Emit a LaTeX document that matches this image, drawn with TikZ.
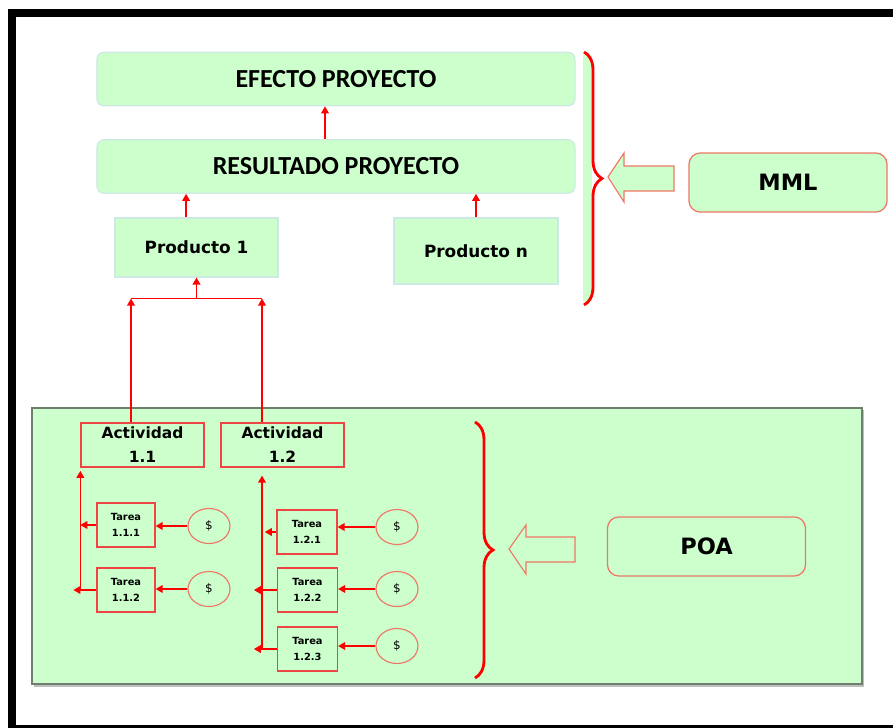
\documentclass[tikz,border=0pt]{standalone}
\usepackage{fontspec}
\newfontfamily\calibri{Carlito}
\newfontfamily\verdana{DejaVu Sans}
\usepackage{tikz}
\usetikzlibrary{positioning,shapes.geometric,arrows.meta,decorations.pathreplacing,calc}
\definecolor{verde}{HTML}{CCFFCC}
\definecolor{bordecaja}{HTML}{CDE9E4}
\definecolor{rojobox}{HTML}{EE4444}
\definecolor{salmon}{HTML}{EE7766}
\definecolor{bordepanel}{HTML}{6F7F6F}

\begin{document}
\begin{tikzpicture}[x=0.025cm,y=-0.025cm,
    caja/.style={draw=bordecaja, fill=verde, rounded corners=5pt, line width=0.8pt, minimum width=11.95cm, minimum height=1.34cm, font=\calibri\bfseries\fontsize{18.5}{20}\selectfont},
    prod/.style={draw=bordecaja, fill=verde, line width=0.8pt, font=\verdana\bfseries\fontsize{12}{14}\selectfont},
    activ/.style={draw=rojobox, line width=0.9pt, align=center, minimum width=3.075cm, minimum height=1.1cm, inner sep=0pt, font=\verdana\bfseries\fontsize{11}{17}\selectfont},
    tarea/.style={draw=rojobox, line width=0.9pt, align=center, minimum width=1.45cm, minimum height=1.1cm, inner sep=0pt, font=\verdana\bfseries\fontsize{7}{11.5}\selectfont},
    pesos/.style={draw=salmon, ellipse, line width=0.8pt, minimum width=1.05cm, minimum height=0.875cm, inner sep=0pt, font=\verdana\fontsize{8.5}{9}\selectfont},
    fuente/.style={draw=salmon, fill=verde, rounded corners=8pt, line width=0.9pt, minimum width=4.95cm, minimum height=1.475cm, font=\verdana\bfseries\fontsize{16}{18}\selectfont},
    flecha/.style={red, line width=1pt, -{Triangle[width=5.5pt,length=5pt]}},
    llave/.style={red, line width=2pt, decorate, decoration={brace, amplitude=12.8pt}},
    bloque/.style={draw=salmon, fill=verde, line width=0.8pt}
  ]
  \useasboundingbox (0,0) rectangle (893,728);
  %marco
  \draw[line width=5.7pt] (893,13) -- (12,13) -- (12,729) -- (893,729);

  %panel POA
  \fill[black!25] (34,410) rectangle (864,687);
  \draw[draw=bordepanel, fill=verde, line width=1.1pt] (32,408) rectangle (862,684);

  %MML
  \node[caja] (efecto) at (336,79) {EFECTO PROYECTO};
  \node[caja] (resultado) at (336,166.5) {RESULTADO PROYECTO};
  \node[prod, minimum width=4.075cm, minimum height=1.475cm] (prod1) at (196.5,247.5) {Producto 1};
  \node[prod, minimum width=4.1cm, minimum height=1.65cm] (prodn) at (476,251) {Producto n};
  \node[fuente] (mml) at (788,182.5) {MML};

  \coordinate (rtop) at ([xshift=-0.275cm]resultado.north);
  \draw[flecha] (rtop) -- (rtop |- efecto.south);
  \coordinate (p1top) at ([xshift=-0.26cm]prod1.north);
  \draw[flecha] (p1top) -- (p1top |- resultado.south);
  \draw[flecha] (prodn.north) -- (prodn.north |- resultado.south);

  %llave arriba
  \fill[verde] (583,55) rectangle (592,302);
  \draw[llave] (584,52) -- (584,305);
  \draw[bloque] (608,177) -- (624,153) -- (624,166) -- (674,166) -- (674,191) -- (624,191) -- (624,202) -- cycle;

  %actividades
  \node[activ] (act11) at (142.5,445) {Actividad\\1.1};
  \node[activ] (act12) at (282.5,445) {Actividad\\1.2};

  \coordinate (p1base) at ([yshift=-0.525cm]prod1.south);
  \coordinate (a11top) at ([xshift=-0.2875cm]act11.north);
  \coordinate (a12top) at ([xshift=-0.5125cm]act12.north);
  \draw[flecha] (a11top) -- (a11top |- p1base);
  \draw[flecha] (a12top) -- (a12top |- p1base);
  \draw[red, line width=1pt] (a11top |- p1base) -- (a12top |- p1base);
  \draw[flecha] (p1base) -- (prod1.south);

  %tareas 1.1
  \node[tarea] (t111) at (126,525) {Tarea\\1.1.1};
  \node[tarea] (t112) at (126,590) {Tarea\\1.1.2};
  \node[pesos] (d111) at (209,526) {\$};
  \node[pesos] (d112) at (209,589) {\$};

  \draw[flecha] (act11.south west |- t112.west) -- ([yshift=-0.08cm]act11.south west);
  \draw[flecha] (t111.west) -- (t111.west -| act11.west);
  \draw[flecha] (t112.west) -- ++(-23,0);
  \draw[flecha] (d111.west) -- (d111.west -| t111.east);
  \draw[flecha] (d112.west) -- (d112.west -| t112.east);

  %tareas 1.2
  \node[tarea, minimum width=1.5cm] (t121) at (307,532) {Tarea\\1.2.1};
  \node[tarea, minimum width=1.5cm] (t122) at (307.5,590) {Tarea\\1.2.2};
  \node[tarea, minimum width=1.5cm] (t123) at (307.5,649) {Tarea\\1.2.3};
  \node[pesos] (d121) at (397,527) {\$};
  \node[pesos] (d122) at (397,589) {\$};
  \node[pesos] (d123) at (397,646) {\$};

  \coordinate (b12) at ([xshift=-0.5125cm,yshift=-0.2cm]act12.south);
  \draw[flecha] (b12 |- t123.west) -- (b12);
  \draw[flecha] (t121.west) -- ([xshift=0.07cm]t121.west -| b12);
  \draw[flecha] (t122.west) -- ++(-23,0);
  \draw[flecha] (t123.west) -- ++(-23,0);
  \draw[flecha] (d121.west) -- (d121.west -| t121.east);
  \draw[flecha] (d122.west) -- (d122.west -| t122.east);
  \draw[flecha] (d123.west) -- (d123.west -| t123.east);

  %llave abajo
  \draw[llave] (475,422) -- (475,678);
  \draw[bloque] (509,549) -- (526,525) -- (526,537) -- (575,537) -- (575,562) -- (526,562) -- (526,574) -- cycle;
  \node[fuente] (poa) at (706.5,546.5) {POA};
\end{tikzpicture}
\end{document}
